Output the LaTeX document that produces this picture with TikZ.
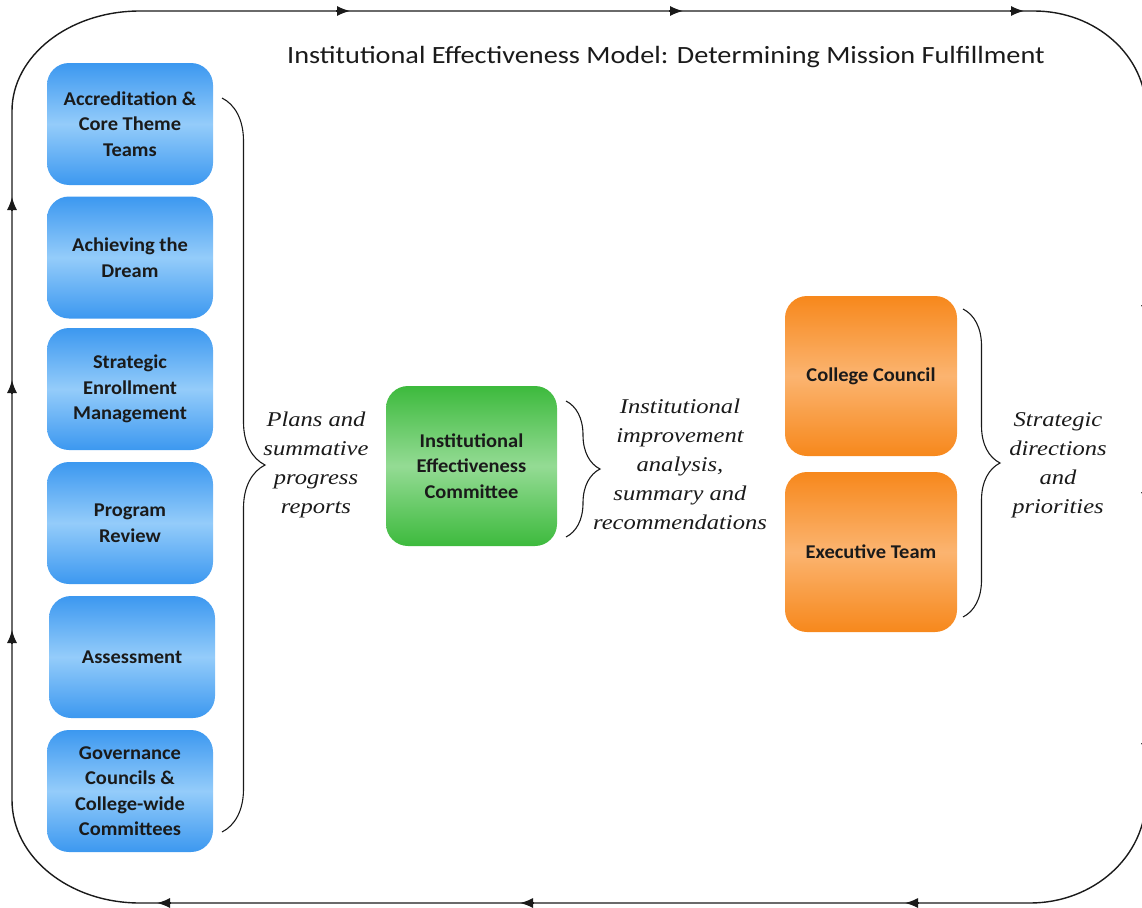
\documentclass[tikz,border=0pt]{standalone}
\usepackage{fontspec}
\setmainfont{Liberation Serif}
\newfontfamily\boxfont[FakeStretch=1.05]{Carlito}
\newfontfamily\titlefont[FakeStretch=1.14]{Carlito}
\newfontfamily\labelfont[FakeStretch=1.17]{Liberation Serif}
\usetikzlibrary{arrows.meta,decorations.pathreplacing,calc}
\definecolor{blueE}{HTML}{3C98F0}
\definecolor{blueM}{HTML}{94CCFA}
\definecolor{greenE}{HTML}{3DBA3D}
\definecolor{greenM}{HTML}{94DB94}
\definecolor{orangeE}{HTML}{F7881C}
\definecolor{orangeM}{HTML}{FBB470}
\definecolor{inkc}{HTML}{1A1A1A}
\begin{document}
\begin{tikzpicture}[x=1pt,y=-1pt,
  loopline/.style={line width=1.4pt, draw=inkc},
  tiparrow/.style={line width=1.4pt, draw=inkc, -{Latex[length=13pt,width=10pt]}},
  bracestyle/.style={line width=1.1pt, draw=inkc, decorate},
  boxbase/.style={rounded corners=22pt, text=inkc, align=center, inner sep=0pt,
    font=\boxfont\bfseries\fontsize{19.5}{25.5}\selectfont},
  bluebox/.style={boxbase, minimum width=166pt, minimum height=122pt,
    top color=blueE, bottom color=blueE, middle color=blueM},
  greenbox/.style={boxbase, minimum width=171pt, minimum height=160pt,
    top color=greenE, bottom color=greenE, middle color=greenM},
  orangebox/.style={boxbase, minimum width=172pt, minimum height=160pt,
    top color=orangeE, bottom color=orangeE, middle color=orangeM},
  italabel/.style={align=center, text=inkc, inner sep=0pt,
    font=\labelfont\itshape\fontsize{21}{29}\selectfont},
  titletext/.style={text=inkc, inner sep=0pt, font=\titlefont\fontsize{24.8}{28}\selectfont}
]
\useasboundingbox (0,0) rectangle (1142,907);

% outer loop
\begin{scope}
\clip (0,0) rectangle (1142,907);
\coordinate (tlA) at (12,111);
\coordinate (tlB) at (140,11);
\coordinate (trA) at (1034,11);
\coordinate (trB) at (1146,111);
\coordinate (brA) at (1146,797);
\coordinate (brB) at (1030,903);
\coordinate (blA) at (140,903);
\coordinate (blB) at (12,800);
\draw[loopline]
  (tlA) .. controls (12,56) and (69,11) .. (tlB)
  -- (trA) .. controls (1096,11) and (1146,56) .. (trB)
  -- (brA) .. controls (1146,857) and (1093,903) .. (brB)
  -- (blA) .. controls (69,903) and (12,857) .. (blB)
  -- cycle;
% arrowheads on the loop
\foreach \xx in {350,683,1024}{
  \coordinate (ta\xx) at (\xx,11);
  \draw[tiparrow] ($(ta\xx)+(-14,0)$) -- (ta\xx);
}
\foreach \xx in {157,520,905}{
  \coordinate (ba\xx) at (\xx,903);
  \draw[tiparrow] ($(ba\xx)+(14,0)$) -- (ba\xx);
}
\foreach \yy in {197,380,630}{
  \coordinate (la\yy) at (12,\yy);
  \draw[tiparrow] ($(la\yy)+(0,14)$) -- (la\yy);
}
\foreach \yy in {318,505,756}{
  \coordinate (ra\yy) at (1146,\yy);
  \draw[tiparrow] ($(ra\yy)+(0,-14)$) -- (ra\yy);
}
\end{scope}

% title
\node[titletext] (title) at (666,57) {Institutional Effectiveness Model: Determining Mission Fulfillment};

% left column
\node[bluebox] (acc) at (130,124) {Accreditation \&\\Core Theme\\Teams};
\node[bluebox] (atd) at (130,257.5) {Achieving the\\Dream};
\node[bluebox] (sem) at (130,389) {Strategic\\Enrollment\\Management};
\node[bluebox] (prv) at (130,523) {Program\\Review};
\node[bluebox] (asm) at (132,657) {Assessment};
\node[bluebox] (gov) at (130,791) {Governance\\Councils \&\\College-wide\\Committees};

% middle
\node[greenbox] (iec) at (471.5,466) {Institutional\\Effectiveness\\Committee};

% right
\node[orangebox] (cc) at (871,376) {College Council};
\node[orangebox] (et) at (871,552) {Executive Team};

% braces
\coordinate (b1t) at (222,98);
\coordinate (b1b) at (222,832);
\draw[bracestyle, decoration={brace, amplitude=43pt}] (b1t) -- (b1b);
\coordinate (b2t) at (566,401);
\coordinate (b2b) at (566,537);
\draw[bracestyle, decoration={brace, amplitude=34pt}] (b2t) -- (b2b);
\coordinate (b3t) at (963,309);
\coordinate (b3b) at (963,617);
\draw[bracestyle, decoration={brace, amplitude=37pt}] (b3t) -- (b3b);

% labels
\node[italabel] (l1) at (316,465) {Plans and\\summative\\progress\\reports};
\node[italabel] (l2) at (680,464) {Institutional\\improvement\\analysis,\\summary and\\recommendations};
\node[italabel] (l3) at (1058,465) {Strategic\\directions\\and\\priorities};
\end{tikzpicture}
\end{document}
